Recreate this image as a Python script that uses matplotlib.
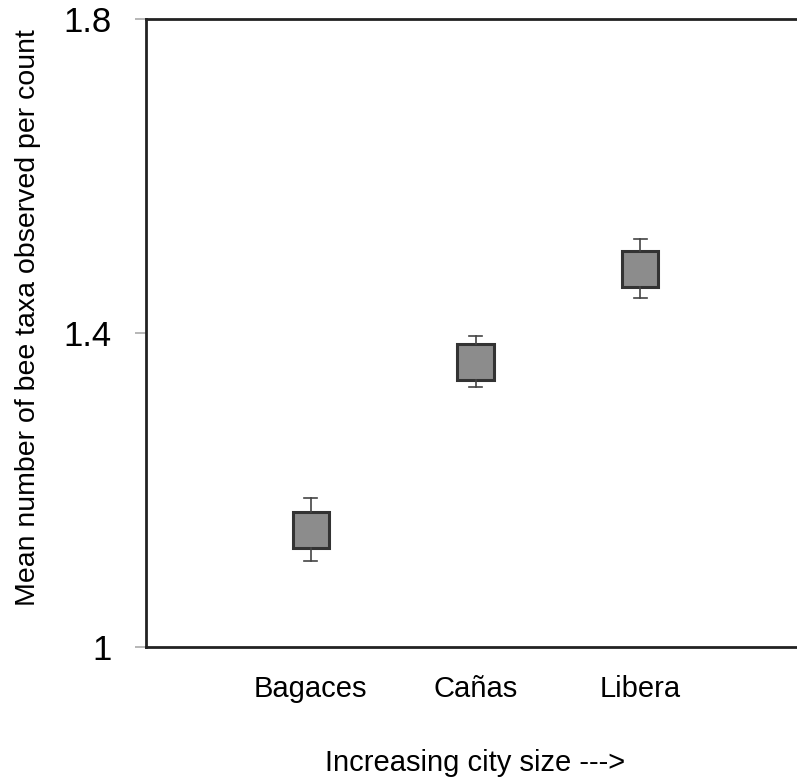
import matplotlib.pyplot as plt

plt.rcParams['font.family'] = ['Liberation Sans', 'DejaVu Sans']

# values
cities = ['Bagaces', 'Cañas', 'Libera']
box_low = [1.126, 1.340, 1.459]
box_high = [1.172, 1.386, 1.504]
whisk_low = [1.110, 1.331, 1.445]
whisk_high = [1.190, 1.396, 1.520]

fig = plt.figure(figsize=(7.97, 7.82), dpi=100)
ax = fig.add_axes([146 / 797, 1 - 647 / 782, (805 - 146) / 797, (647 - 19) / 782])

stats = []
for i in range(len(cities)):
    stats.append({
        'med': (box_low[i] + box_high[i]) / 2,
        'q1': box_low[i],
        'q3': box_high[i],
        'whislo': whisk_low[i],
        'whishi': whisk_high[i],
        'fliers': [],
    })

ax.bxp(stats, positions=[1, 2, 3], widths=0.22, patch_artist=True,
       showfliers=False, capwidths=0.08,
       boxprops=dict(facecolor='#8c8c8c', edgecolor='#333333', linewidth=2.2),
       whiskerprops=dict(color='#444444', linewidth=1.2),
       capprops=dict(color='#444444', linewidth=1.2),
       medianprops=dict(linewidth=0))

ax.set_xlim(0, 4)
ax.set_ylim(1.0, 1.8)
ax.set_yticks([1.0, 1.4, 1.8])
ax.set_yticklabels(['1', '1.4', '1.8'], fontsize=25)
ax.set_xticks([1, 2, 3])
ax.set_xticklabels(cities, fontsize=21)
ax.tick_params(axis='y', length=8, width=1.2, color='#aaaaaa', pad=17)
ax.tick_params(axis='x', length=0, pad=20)

ax.spines['right'].set_visible(False)
for s in ['left', 'bottom', 'top']:
    ax.spines[s].set_linewidth(2)
    ax.spines[s].set_color('#222222')

fig.text(475 / 797, 1 - 763 / 782, 'Increasing city size --->',
         fontsize=21, ha='center', va='center')
fig.text(0.035, 1 - 318 / 782, 'Mean number of bee taxa observed per count',
         rotation=90, fontsize=20.5, ha='center', va='center')

fig.savefig('out.png', dpi=100)
